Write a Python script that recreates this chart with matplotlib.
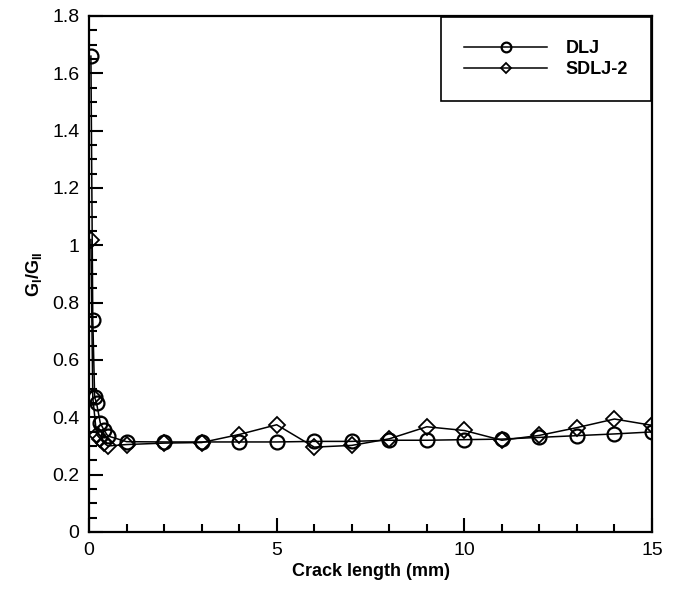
import matplotlib
matplotlib.use("Agg")
import matplotlib.pyplot as plt
from matplotlib.ticker import MultipleLocator, FuncFormatter

plt.rcParams['font.family'] = ['Liberation Sans', 'DejaVu Sans']
plt.rcParams['mathtext.fontset'] = 'custom'
plt.rcParams['mathtext.rm'] = 'Liberation Sans'
plt.rcParams['mathtext.bf'] = 'Liberation Sans:bold'

dlj_x = [0.05, 0.1, 0.15, 0.2, 0.3, 0.4, 0.5, 1, 2, 3, 4, 5, 6, 7, 8, 9, 10, 11, 12, 13, 14, 15]
dlj_y = [1.66, 0.74, 0.47, 0.45, 0.38, 0.355, 0.335, 0.315, 0.314, 0.314, 0.314, 0.314, 0.316, 0.316, 0.32, 0.32, 0.322, 0.324, 0.33, 0.336, 0.342, 0.349]

sdlj_x = [0.05, 0.1, 0.2, 0.3, 0.4, 0.5, 1, 2, 3, 4, 5, 6, 7, 8, 9, 10, 11, 12, 13, 14, 15]
sdlj_y = [1.02, 0.47, 0.34, 0.325, 0.31, 0.30, 0.305, 0.31, 0.312, 0.34, 0.374, 0.296, 0.302, 0.325, 0.367, 0.354, 0.32, 0.337, 0.364, 0.394, 0.372]

fig = plt.figure(figsize=(6.76, 5.92), dpi=100)
ax = fig.add_axes([0.1317, 0.1014, 0.8328, 0.8716])

ax.plot(dlj_x, dlj_y, color='black', lw=1.1, marker='o', ms=10, mfc='none', mew=1.6, label='DLJ')
ax.plot(sdlj_x, sdlj_y, color='black', lw=1.1, marker='D', ms=8, mfc='none', mew=1.3, label='SDLJ-2')

ax.set_xlim(0, 15)
ax.set_ylim(0, 1.8)
ax.xaxis.set_major_locator(MultipleLocator(5))
ax.xaxis.set_minor_locator(MultipleLocator(1))
ax.yaxis.set_major_locator(MultipleLocator(0.2))
ax.yaxis.set_minor_locator(MultipleLocator(0.05))

def fmt(v, pos):
    s = f"{v:.1f}"
    if s.endswith('.0'):
        s = s[:-2]
    return s
ax.yaxis.set_major_formatter(FuncFormatter(fmt))

ax.tick_params(which='both', direction='in', width=1.5, labelsize=14, top=False, right=False, pad=7)
ax.tick_params(which='major', length=10)
ax.tick_params(which='minor', length=6)
for sp in ax.spines.values():
    sp.set_linewidth(1.6)

ax.set_xlabel('Crack length (mm)', fontsize=13, fontweight='bold', labelpad=3)
ax.set_ylabel(r'$\mathbf{G_I/G_{II}}$', fontsize=13, labelpad=6)

leg = ax.legend(loc='upper right', prop={'weight': 'bold', 'size': 13},
                handlelength=4.6, borderpad=1.3, labelspacing=0.2, handletextpad=1.0, fancybox=False,
                framealpha=1, edgecolor='black', borderaxespad=0.05, markerscale=0.7)
leg.get_frame().set_linewidth(1.2)

fig.savefig('out.png', dpi=100)
